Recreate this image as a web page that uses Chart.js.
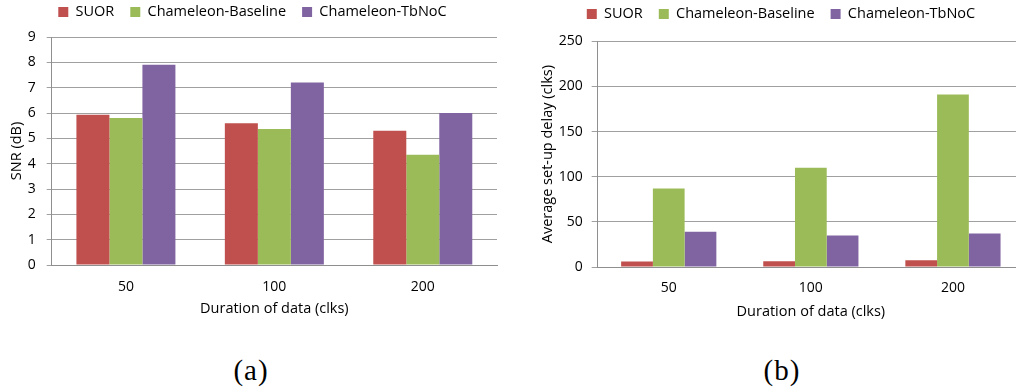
<!DOCTYPE html>
<html><head><meta charset="utf-8">
<script src="https://cdn.jsdelivr.net/npm/chart.js@4/dist/chart.umd.min.js"></script>
<style>
html,body{margin:0;padding:0;background:#fff;width:1016px;height:391px;overflow:hidden;}
#wrap{position:relative;width:1016px;height:391px;overflow:hidden;background:#fff;}
#c1{position:absolute;left:0;top:0;}
#c2{position:absolute;left:500px;top:0;}
.cap{position:absolute;top:352px;font-family:"Liberation Serif",serif;font-size:29px;color:#000;transform:translateX(-50%);line-height:36px;white-space:nowrap;letter-spacing:1px;}
</style></head><body>
<div id="wrap">
<canvas id="c1" width="500" height="340"></canvas>
<canvas id="c2" width="530" height="340"></canvas>
<div class="cap" style="left:251px">(a)</div>
<div class="cap" style="left:782px">(b)</div>
</div>
<script>
// ---- data ----
const categories = ['50', '100', '200'];
const seriesNames = ['SUOR', 'Chameleon-Baseline', 'Chameleon-TbNoC'];
const suorSNR = [5.93, 5.6, 5.3];
const baselineSNR = [5.8, 5.37, 4.35];
const tbnocSNR = [7.9, 7.2, 6.0];
const suorDelay = [6, 6.5, 7.5];
const baselineDelay = [87, 110, 191];
const tbnocDelay = [39, 35, 37];
const snrTicks = [0, 1, 2, 3, 4, 5, 6, 7, 8, 9];
const delayTicks = [0, 50, 100, 150, 200, 250];
const xTitle = 'Duration of data (clks)';
const snrTitle = 'SNR (dB)';
const delayTitle = 'Average set-up delay (clks)';

const colors = ['#C0504D', '#9BBB59', '#8064A2'];
const FONT = '"Open Sans", sans-serif';
const GRID = '#a0a0a0';
const AXIS = '#8f8f8f';

const legendPlace = {
  id: 'legendPlace',
  beforeLayout(chart, args, opts) {
    const lg = chart.legend;
    if (lg && !lg._patched) {
      const orig = lg.fit.bind(lg);
      lg.fit = function () { orig(); this.height = opts.areaTop - opts.padTop; };
      lg._patched = true;
    }
  },
  afterLayout(chart, args, opts) {
    const lg = chart.legend;
    const lo = chart.options.plugins.legend.labels;
    const ih = Math.max(lo.font.size, lo.boxHeight);
    const dy = opts.textY - (lg.top + lo.padding + ih / 2);
    lg.top += dy; lg.bottom += dy;
  }
};

function makeChart(id, data, ticks, yTitle, g) {
  const ds = [data[0], data[1], data[2]].map((d, i) => ({
    label: seriesNames[i], data: d, backgroundColor: colors[i], borderWidth: 0,
    barPercentage: 1.0, categoryPercentage: g.catPct
  }));
  return new Chart(document.getElementById(id), {
    type: 'bar',
    data: { labels: categories, datasets: ds },
    plugins: [legendPlace],
    options: {
      responsive: false, animation: false, devicePixelRatio: 1,
      layout: { padding: { top: g.padTop, left: g.padLeft, right: g.padRight, bottom: g.padBottom } },
      plugins: {
        legend: {
          position: 'top',
          labels: { boxWidth: 10, boxHeight: 10, padding: 16, color: '#000', font: { family: FONT, size: 14.5 } }
        },
        tooltip: { enabled: false },
        legendPlace: { areaTop: g.areaTop, padTop: g.padTop, textY: g.legendY }
      },
      scales: {
        x: {
          grid: { display: false, drawTicks: false },
          border: { display: true, color: AXIS, width: 1 },
          ticks: { color: '#000', padding: g.xTickPad, font: { family: FONT, size: 14 } },
          title: { display: true, text: xTitle, color: '#000', padding: { top: 0, bottom: 0 }, font: { family: FONT, size: 14.5 } },
          afterFit: s => { s.height = g.xHeight; }
        },
        y: {
          min: ticks[0], max: ticks[ticks.length - 1],
          afterBuildTicks: s => { s.ticks = ticks.map(v => ({ value: v })); },
          grid: { color: GRID, lineWidth: 1, tickLength: g.tickLen, drawTicks: true },
          border: { display: true, color: AXIS, width: 1 },
          ticks: { color: '#000', padding: g.yTickPad, font: { family: FONT, size: 14 } },
          title: { display: true, text: yTitle, color: '#000', padding: { top: g.yTitlePad, bottom: 0 }, font: { family: FONT, size: 14.5 } },
          afterFit: s => { s.width = g.yWidth; }
        }
      }
    }
  });
}

makeChart('c1', [suorSNR, baselineSNR, tbnocSNR], snrTicks, snrTitle, {
  catPct: 0.667, padTop: 0, padLeft: 8, padRight: 3, padBottom: 22.3,
  areaTop: 37, legendY: 12, xHeight: 52.7, yWidth: 43.7, tickLen: 5, xTickPad: 14, yTickPad: 11, yTitlePad: 0
});
makeChart('c2', [suorDelay, baselineDelay, tbnocDelay], delayTicks, delayTitle, {
  catPct: 0.67, padTop: 0, padLeft: 38, padRight: 6, padBottom: 19.6,
  areaTop: 41.3, legendY: 14, xHeight: 53.4, yWidth: 59.7, tickLen: 6, xTickPad: 13, yTickPad: 9, yTitlePad: 1
});
</script>
</body></html>
